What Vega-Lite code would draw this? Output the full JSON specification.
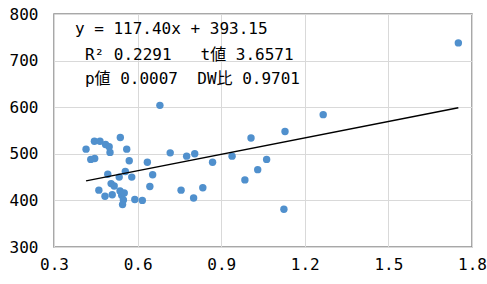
{
  "$schema": "https://vega.github.io/schema/vega-lite/v6.json",
  "width": 418,
  "height": 233,
  "autosize": "none",
  "padding": {"left": 54, "top": 14, "right": 15, "bottom": 37},
  "background": "white",
  "config": {
    "view": {"stroke": "#8c8c8c", "strokeWidth": 1.5},
    "axis": {
      "labelFont": "DejaVu Sans Mono",
      "labelFontSize": 16,
      "labelColor": "#000000",
      "gridColor": "#d9d9d9",
      "gridWidth": 1,
      "domain": false,
      "ticks": false,
      "title": null
    }
  },
  "datasets": {
    "points": [
      {"x": 0.680, "y": 604},
      {"x": 0.415, "y": 510},
      {"x": 0.445, "y": 527},
      {"x": 0.465, "y": 527},
      {"x": 0.485, "y": 520},
      {"x": 0.498, "y": 515},
      {"x": 0.501, "y": 503},
      {"x": 0.538, "y": 535},
      {"x": 0.561, "y": 510},
      {"x": 0.432, "y": 488},
      {"x": 0.446, "y": 490},
      {"x": 0.570, "y": 485},
      {"x": 0.635, "y": 482},
      {"x": 0.493, "y": 456},
      {"x": 0.534, "y": 450},
      {"x": 0.556, "y": 462},
      {"x": 0.579, "y": 450},
      {"x": 0.654, "y": 455},
      {"x": 0.505, "y": 436},
      {"x": 0.516, "y": 431},
      {"x": 0.461, "y": 422},
      {"x": 0.537, "y": 420},
      {"x": 0.509, "y": 412},
      {"x": 0.483, "y": 409},
      {"x": 0.543, "y": 411},
      {"x": 0.549, "y": 401},
      {"x": 0.546, "y": 391},
      {"x": 0.590, "y": 402},
      {"x": 0.617, "y": 400},
      {"x": 0.644, "y": 430},
      {"x": 0.717, "y": 502},
      {"x": 0.776, "y": 495},
      {"x": 0.805, "y": 500},
      {"x": 0.869, "y": 482},
      {"x": 0.756, "y": 422},
      {"x": 0.834, "y": 427},
      {"x": 0.801, "y": 405},
      {"x": 1.266, "y": 584},
      {"x": 1.129, "y": 548},
      {"x": 1.007, "y": 534},
      {"x": 0.939, "y": 495},
      {"x": 1.063, "y": 488},
      {"x": 1.031, "y": 466},
      {"x": 0.985, "y": 444},
      {"x": 1.125, "y": 381},
      {"x": 1.751, "y": 738},
      {"x": 0.552, "y": 416}
    ],
    "trend": [
      {"x": 0.415, "y": 441.9},
      {"x": 1.751, "y": 598.7}
    ],
    "labels": [
      {"x": 0.375, "y": 767, "text": "y = 117.40x + 393.15"},
      {"x": 0.411, "y": 713, "text": "R² 0.2291\u00a0\u00a0\u00a0t値 3.6571"},
      {"x": 0.411, "y": 660, "text": "p値 0.0007\u00a0\u00a0DW比 0.9701"}
    ]
  },
  "layer": [
    {
      "data": {"name": "points"},
      "mark": {"type": "point", "filled": true, "size": 55, "opacity": 1, "color": "#5090cd"},
      "encoding": {
        "x": {"field": "x", "type": "quantitative", "scale": {"domain": [0.3, 1.8], "nice": false, "zero": false},
              "axis": {"values": [0.3, 0.6, 0.9, 1.2, 1.5, 1.8], "format": ".1f", "labelPadding": 9, "labelFlush": false}},
        "y": {"field": "y", "type": "quantitative", "scale": {"domain": [300, 800], "nice": false, "zero": false},
              "axis": {"values": [300, 400, 500, 600, 700, 800], "labelPadding": 16}}
      }
    },
    {
      "data": {"name": "trend"},
      "mark": {"type": "line", "color": "#000000", "strokeWidth": 1.5},
      "encoding": {
        "x": {"field": "x", "type": "quantitative"},
        "y": {"field": "y", "type": "quantitative"}
      }
    },
    {
      "data": {"name": "labels"},
      "mark": {"type": "text", "align": "left", "baseline": "middle", "font": "DejaVu Sans Mono, Noto Sans CJK JP", "fontSize": 16, "color": "#000000"},
      "encoding": {
        "x": {"field": "x", "type": "quantitative"},
        "y": {"field": "y", "type": "quantitative"},
        "text": {"field": "text"}
      }
    }
  ]
}
